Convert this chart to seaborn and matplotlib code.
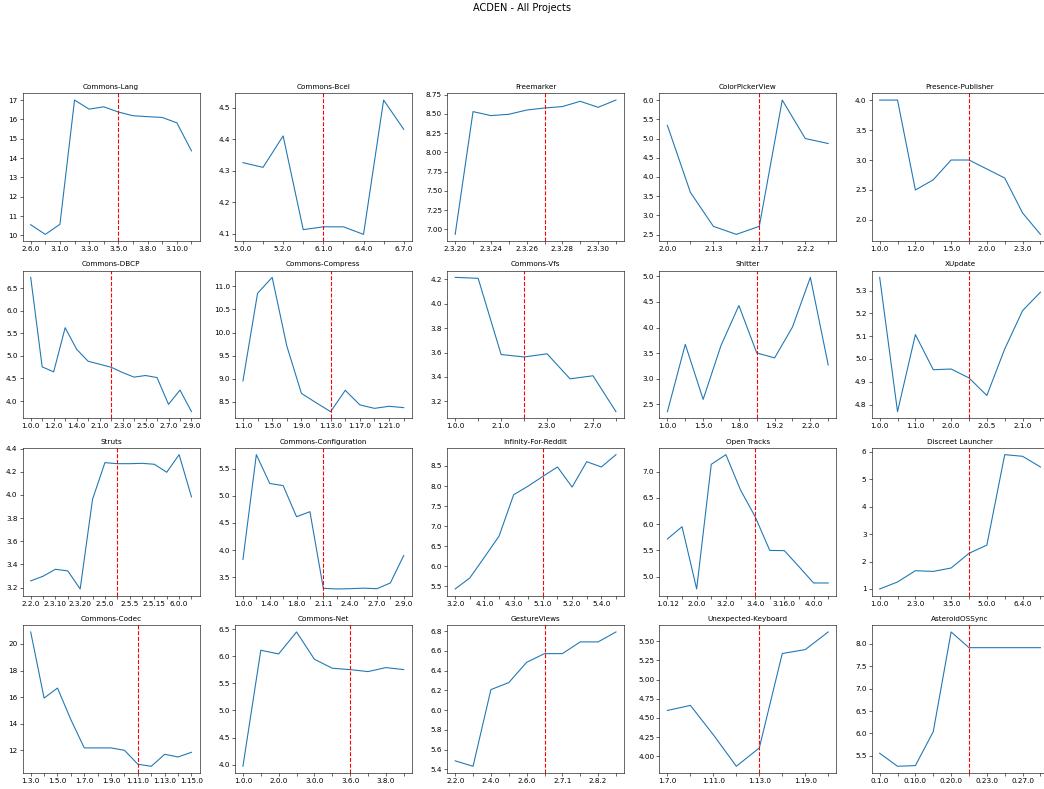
import numpy as np
import matplotlib
matplotlib.use("Agg")
import matplotlib.pyplot as plt
import seaborn as sns

# ---------------- data ----------------
lang_versions = ["2.6.0", "3.0.0", "3.1.0", "3.2.0", "3.3.0", "3.4.0", "3.5.0", "3.6.0", "3.8.0", "3.9.0", "3.10.0", "3.11.0"]
lang_values = [10.55, 10.05, 10.57, 17.0, 16.53, 16.65, 16.38, 16.19, 16.14, 16.1, 15.82, 14.37]
lang_split = "3.5.0"

bcel_versions = ["5.0.0", "5.1.0", "5.2.0", "6.0.0", "6.1.0", "6.2.0", "6.4.0", "6.6.0", "6.7.0"]
bcel_values = [4.326, 4.311, 4.411, 4.113, 4.122, 4.122, 4.098, 4.525, 4.432]
bcel_split = "6.1.0"

freemarker_versions = ["2.3.20", "2.3.22", "2.3.24", "2.3.25", "2.3.26", "2.3.27", "2.3.28", "2.3.29", "2.3.30", "2.3.31"]
freemarker_values = [6.935, 8.53, 8.478, 8.495, 8.55, 8.577, 8.595, 8.664, 8.586, 8.68]
freemarker_split = "2.3.27"

colorpicker_versions = ["2.0.0", "2.1.0", "2.1.3", "2.1.5", "2.1.7", "2.2.0", "2.2.2", "2.2.3"]
colorpicker_values = [5.34, 3.6, 2.717, 2.508, 2.717, 6.0, 5.0, 4.87]
colorpicker_split = "2.1.7"

presence_versions = ["1.0.0", "1.1.0", "1.2.0", "1.3.0", "1.5.0", "1.6.0", "2.0.0", "2.1.0", "2.3.0", "2.4.0"]
presence_values = [4.0, 4.0, 2.5, 2.67, 3.0, 3.0, 2.85, 2.7, 2.117, 1.76]
presence_split = "1.6.0"

dbcp_versions = ["1.0.0", "1.1.0", "1.2.0", "1.3.0", "1.4.0", "2.0.0", "2.1.0", "2.2.0", "2.3.0", "2.4.0", "2.5.0", "2.6.0", "2.7.0", "2.8.0", "2.9.0"]
dbcp_values = [6.74, 4.757, 4.647, 5.625, 5.147, 4.882, 4.816, 4.75, 4.632, 4.53, 4.566, 4.52, 3.927, 4.243, 3.765]
dbcp_split = "2.2.0"

compress_versions = ["1.1.0", "1.3.0", "1.5.0", "1.7.0", "1.9.0", "1.11.0", "1.13.0", "1.15.0", "1.17.0", "1.19.0", "1.21.0", "1.23.0"]
compress_values = [8.95, 10.85, 11.196, 9.71, 8.68, 8.478, 8.283, 8.746, 8.43, 8.355, 8.4, 8.37]
compress_split = "1.13.0"

vfs_versions = ["1.0.0", "2.0.0", "2.1.0", "2.2.0", "2.3.0", "2.5.0", "2.7.0", "2.8.0"]
vfs_values = [4.216, 4.208, 3.584, 3.564, 3.59, 3.385, 3.41, 3.116]
vfs_split = "2.2.0"

shitter_versions = ["1.0.0", "1.2.0", "1.5.0", "1.7.0", "1.8.0", "1.9.0", "1.9.2", "2.0.0", "2.2.0", "2.3.0"]
shitter_values = [2.357, 3.672, 2.597, 3.65, 4.43, 3.504, 3.407, 4.01, 4.98, 3.27]
shitter_split = "1.9.0"

xupdate_versions = ["1.0.0", "1.0.5", "1.1.0", "1.1.5", "2.0.0", "2.0.2", "2.0.5", "2.0.6", "2.1.0", "2.1.1"]
xupdate_values = [5.358, 4.769, 5.107, 4.953, 4.956, 4.917, 4.84, 5.044, 5.212, 5.293]
xupdate_split = "2.0.2"

struts_versions = ["2.2.0", "2.3.1", "2.3.10", "2.3.15", "2.3.20", "2.3.30", "2.5.0", "2.5.2", "2.5.5", "2.5.10", "2.5.15", "2.5.20", "6.0.0", "6.1.0"]
struts_values = [3.258, 3.298, 3.358, 3.344, 3.188, 3.962, 4.279, 4.27, 4.27, 4.273, 4.265, 4.196, 4.348, 3.983]
struts_split = "2.5.2"

config_versions = ["1.0.0", "1.2.0", "1.4.0", "1.6.0", "1.8.0", "1.10.0", "2.1.1", "2.2.0", "2.4.0", "2.5.0", "2.7.0", "2.8.0", "2.9.0"]
config_values = [3.826, 5.755, 5.225, 5.186, 4.614, 4.706, 3.297, 3.285, 3.29, 3.3, 3.29, 3.395, 3.9]
config_split = "2.1.1"

infinity_versions = ["3.2.0", "4.0.0", "4.1.0", "4.2.0", "4.3.0", "5.0.0", "5.1.0", "5.1.1", "5.2.0", "5.3.0", "5.4.0", "5.4.2"]
infinity_values = [5.433, 5.708, 6.225, 6.75, 7.783, 8.0, 8.242, 8.475, 7.975, 8.608, 8.475, 8.783]
infinity_split = "5.1.0"

opentracks_versions = ["1.0.12", "1.1.0", "2.0.0", "3.0.0", "3.2.0", "3.3.0", "3.4.0", "3.10.0", "3.16.0", "3.20.0", "4.0.0", "4.1.0"]
opentracks_values = [5.717, 5.952, 4.765, 7.14, 7.324, 6.651, 6.143, 5.5, 5.495, 5.19, 4.879, 4.879]
opentracks_split = "3.4.0"

discreet_versions = ["1.0.0", "2.0.0", "2.3.0", "3.0.0", "3.5.0", "4.0.0", "5.0.0", "6.0.0", "6.4.0", "7.0.0"]
discreet_values = [1.0, 1.255, 1.667, 1.64, 1.765, 2.3, 2.6, 5.9, 5.84, 5.45]
discreet_split = "4.0.0"

codec_versions = ["1.3.0", "1.4.0", "1.5.0", "1.6.0", "1.7.0", "1.8.0", "1.9.0", "1.10.0", "1.11.0", "1.12.0", "1.13.0", "1.14.0", "1.15.0"]
codec_values = [20.9, 15.93, 16.68, 14.3, 12.18, 12.18, 12.18, 12.0, 10.95, 10.8, 11.7, 11.5, 11.85]
codec_split = "1.11.0"

net_versions = ["1.0.0", "1.4.0", "2.0.0", "2.2.0", "3.0.0", "3.3.0", "3.6.0", "3.7.0", "3.8.0", "3.9.0"]
net_values = [3.97, 6.112, 6.044, 6.45, 5.946, 5.78, 5.755, 5.718, 5.792, 5.755]
net_split = "3.6.0"

gesture_versions = ["2.2.0", "2.3.0", "2.4.0", "2.5.0", "2.6.0", "2.7.0", "2.7.1", "2.8.0", "2.8.2", "2.8.3"]
gesture_values = [5.485, 5.43, 6.208, 6.279, 6.485, 6.573, 6.573, 6.692, 6.692, 6.793]
gesture_split = "2.7.0"

keyboard_versions = ["1.7.0", "1.9.0", "1.11.0", "1.12.0", "1.13.0", "1.15.0", "1.19.0", "1.20.0"]
keyboard_values = [4.597, 4.663, 4.28, 3.87, 4.109, 5.339, 5.39, 5.62]
keyboard_split = "1.13.0"

asteroid_versions = ["0.1.0", "0.5.0", "0.10.0", "0.15.0", "0.20.0", "0.22.0", "0.23.0", "0.25.0", "0.27.0", "0.28.0"]
asteroid_values = [5.56, 5.27, 5.285, 6.04, 8.26, 7.91, 7.91, 7.91, 7.91, 7.91]
asteroid_split = "0.22.0"

projects = [
    ("Commons-Lang", lang_versions, lang_values, lang_split),
    ("Commons-Bcel", bcel_versions, bcel_values, bcel_split),
    ("Freemarker", freemarker_versions, freemarker_values, freemarker_split),
    ("ColorPickerView", colorpicker_versions, colorpicker_values, colorpicker_split),
    ("Presence-Publisher", presence_versions, presence_values, presence_split),
    ("Commons-DBCP", dbcp_versions, dbcp_values, dbcp_split),
    ("Commons-Compress", compress_versions, compress_values, compress_split),
    ("Commons-Vfs", vfs_versions, vfs_values, vfs_split),
    ("Shitter", shitter_versions, shitter_values, shitter_split),
    ("XUpdate", xupdate_versions, xupdate_values, xupdate_split),
    ("Struts", struts_versions, struts_values, struts_split),
    ("Commons-Configuration", config_versions, config_values, config_split),
    ("Infinity-For-Reddit", infinity_versions, infinity_values, infinity_split),
    ("Open Tracks", opentracks_versions, opentracks_values, opentracks_split),
    ("Discreet Launcher", discreet_versions, discreet_values, discreet_split),
    ("Commons-Codec", codec_versions, codec_values, codec_split),
    ("Commons-Net", net_versions, net_values, net_split),
    ("GestureViews", gesture_versions, gesture_values, gesture_split),
    ("Unexpected-Keyboard", keyboard_versions, keyboard_values, keyboard_split),
    ("AsteroidOSSync", asteroid_versions, asteroid_values, asteroid_split),
]

# ---------------- plot ----------------
DPI = 52.2
fig, axes = plt.subplots(4, 5, figsize=(1044 / DPI, 789 / DPI), dpi=DPI)
fig.subplots_adjust(left=0.0217, right=1.0043, bottom=0.0203, top=0.8817,
                    wspace=0.2, hspace=0.2)

for ax, (name, versions, values, split) in zip(axes.flat, projects):
    pos = np.arange(len(versions))
    sns.lineplot(x=pos, y=values, ax=ax, color="#1f77b4", linewidth=1.5)
    ax.axvline(versions.index(split), color="red", linestyle="--", linewidth=1.5)
    ax.set_xticks(pos)
    ax.set_xticklabels([v if i % 2 == 0 else "" for i, v in enumerate(versions)])
    ax.tick_params(labelsize=10)
    ax.set_title(name, fontsize=10)
    ax.set_xlabel("")
    ax.set_ylabel("")

fig.suptitle("ACDEN - All Projects", y=0.996, fontsize=13.5)
fig.savefig("out.png", dpi=DPI)
